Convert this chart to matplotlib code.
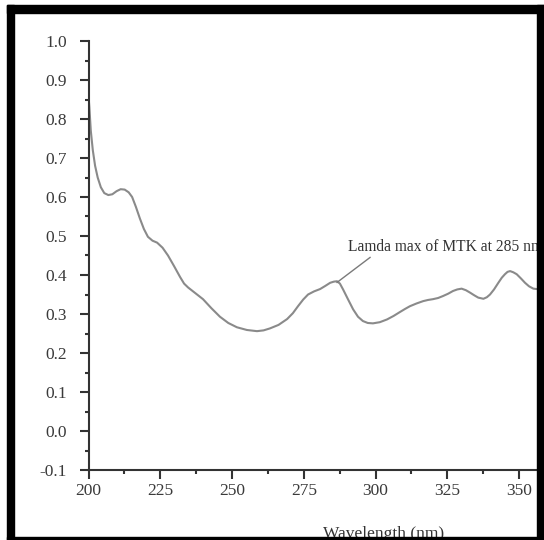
import matplotlib
matplotlib.use("Agg")
import matplotlib.pyplot as plt
from matplotlib.patches import Rectangle
from matplotlib.ticker import MultipleLocator

# UV spectrum
wavelength = [200.0, 200.3, 200.8, 201.5, 202.3, 203.2, 204.3, 205.5, 206.9, 208.3,
              209.8, 211.2, 212.6, 214.0, 215.2, 216.5, 217.9, 219.3, 220.7, 222.3,
              223.9, 225.8, 227.7, 229.8, 231.9, 233.3, 234.7, 237.3, 239.9, 242.8,
              245.8, 248.7, 251.7, 255.2, 258.7, 261.0, 263.2, 266.2, 269.2, 271.2,
              273.0, 274.8, 276.5, 278.6, 280.7, 282.5, 284.2, 285.5, 286.6, 287.6,
              288.7, 290.4, 292.2, 293.9, 295.6, 297.3, 299.1, 301.5, 304.0, 306.3,
              308.5, 310.3, 312.0, 314.3, 316.6, 318.3, 320.0, 321.8, 323.5, 325.3,
              327.0, 328.5, 330.0, 331.5, 332.9, 334.4, 335.8, 337.6, 338.8, 339.9,
              341.3, 342.8, 344.0, 345.1, 346.0, 346.9, 348.0, 349.2, 350.7, 352.1,
              353.5, 355.0, 356.2, 357.3, 358.7]
absorbance = [0.860, 0.830, 0.770, 0.720, 0.680, 0.650, 0.625, 0.610, 0.605, 0.607,
              0.615, 0.620, 0.619, 0.612, 0.600, 0.575, 0.545, 0.518, 0.498, 0.488,
              0.483, 0.470, 0.450, 0.423, 0.395, 0.378, 0.368, 0.353, 0.338, 0.315,
              0.293, 0.277, 0.266, 0.259, 0.256, 0.258, 0.263, 0.272, 0.287, 0.302,
              0.320, 0.337, 0.350, 0.358, 0.364, 0.372, 0.380, 0.383, 0.384, 0.378,
              0.363, 0.338, 0.312, 0.293, 0.282, 0.277, 0.276, 0.279, 0.286, 0.295,
              0.305, 0.313, 0.320, 0.327, 0.333, 0.336, 0.338, 0.341, 0.346, 0.352,
              0.359, 0.363, 0.365, 0.361, 0.355, 0.348, 0.342, 0.339, 0.343, 0.350,
              0.363, 0.380, 0.393, 0.402, 0.408, 0.410, 0.407, 0.402, 0.391, 0.380,
              0.371, 0.365, 0.364, 0.365, 0.368]

x_ticks = [200, 225, 250, 275, 300, 325, 350]
y_ticks = [-0.1, 0.0, 0.1, 0.2, 0.3, 0.4, 0.5, 0.6, 0.7, 0.8, 0.9, 1.0]

annot_text = "Lamda max of MTK at 285 nm"
annot_xy = (286.6, 0.381)      # line end at the peak
annot_line_start = (298.1, 0.445)
annot_pos = (290.4, 0.462)

plt.rcParams['font.family'] = ['Liberation Serif', 'DejaVu Serif']

W, H = 544, 540
fig = plt.figure(figsize=(W / 100, H / 100), dpi=100)
fig.patch.set_facecolor('white')

# axes placed in pixel terms: y-axis at x=88.5, bottom at y=470, top (1.0) at y=41
ax = fig.add_axes([88.5 / W, (H - 470) / H, (W - 88.5) / W, (470 - 41) / H])
ax.set_facecolor('white')

ax.plot(wavelength, absorbance, color='#8a8a8a', lw=1.5)
ax.plot([annot_line_start[0], annot_xy[0]], [annot_line_start[1], annot_xy[1]],
        color='#7a7a7a', lw=1.0)
ax.text(annot_pos[0], annot_pos[1], annot_text, fontsize=11.2, color='#333333',
        ha='left', va='baseline', clip_on=True)

ax.set_xlim(200, 200 + (W - 88.5) / 2.87)
ax.set_ylim(-0.1, 1.0)

ax.set_xticks(x_ticks)
ax.set_yticks(y_ticks)
ax.set_yticklabels([f"{v:.1f}" for v in y_ticks])
ax.xaxis.set_minor_locator(MultipleLocator(12.5))
ax.yaxis.set_minor_locator(MultipleLocator(0.05))

for s in ['top', 'right']:
    ax.spines[s].set_visible(False)
for s in ['left', 'bottom']:
    ax.spines[s].set_linewidth(1.5)
    ax.spines[s].set_color('#333333')

ax.tick_params(axis='both', which='major', direction='out', length=6.5, width=1.5,
               color='#333333', labelsize=12.5, labelcolor='#3a3a3a')
ax.tick_params(axis='both', which='minor', direction='out', length=3, width=1.5,
               color='#333333')
ax.tick_params(axis='y', which='major', pad=9)
ax.tick_params(axis='x', which='major', pad=3)

# x label, mostly hidden under the bottom frame
fig.text(384 / W, 1 - 538.5 / H, "Wavelength (nm)", fontsize=12.5, color='#333333',
         ha='center', va='baseline')

# thick black frame around the picture
for x0, y0, x1, y1 in [(7, 5, 14, 540), (7, 5, 544, 13), (537, 5, 544, 540), (7, 537, 544, 540)]:
    fig.add_artist(Rectangle((x0 / W, 1 - y1 / H), (x1 - x0) / W, (y1 - y0) / H,
                             transform=fig.transFigure, color='black', zorder=10))

fig.savefig("out.png", dpi=100, facecolor='white')
